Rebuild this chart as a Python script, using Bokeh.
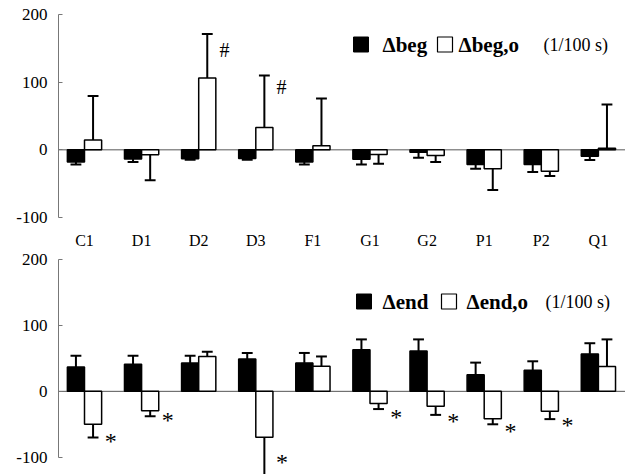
import numpy as np
from bokeh.plotting import figure
from bokeh.layouts import column
from bokeh.models import Range1d, FixedTicker, Span
from bokeh.core.properties import value
from bokeh.embed import file_html
from bokeh.resources import INLINE

# ---------------- data ----------------
categories = ["C1", "D1", "D2", "D3", "F1", "G1", "G2", "P1", "P2", "Q1"]

beg_mean = [-18.0, -13.7, -13.0, -12.7, -18.0, -14.0, -3.4, -21.5, -21.5, -9.3]
beg_sd = [3.5, 4.3, 1.5, 1.8, 3.5, 7.5, 8.3, 6.5, 11.2, 5.7]
beg_o_mean = [14.6, -7.3, 106.0, 33.0, 5.9, -7.0, -8.3, -28.0, -31.7, 2.4]
beg_o_sd = [64.9, 37.7, 65.0, 77.0, 70.0, 13.5, 9.7, 31.5, 6.8, 64.6]

end_mean = [36.6, 41.0, 43.0, 48.8, 43.0, 63.0, 61.0, 24.9, 31.7, 56.6]
end_sd = [17.1, 12.7, 10.7, 9.2, 15.0, 15.5, 17.5, 18.5, 13.7, 16.1]
end_o_mean = [-49.8, -29.3, 52.7, -69.3, 38.0, -18.5, -22.4, -41.5, -30.2, 37.6]
end_o_sd = [20.0, 8.3, 7.3, 65.0, 14.7, 8.3, 13.2, 8.3, 11.8, 40.9]

hash_cats = ["D2", "D3"]
hash_y = [147.0, 93.4]
star_cats = ["C1", "D1", "D3", "G1", "G2", "P1", "P2"]
star_y = [-69.5, -38.5, -101.9, -33.0, -39.0, -55.2, -45.3]

y_ticks = [-100, 0, 100, 200]
legend_top = ["\u0394beg", "\u0394beg,o", "(1/100 s)"]
legend_bot = ["\u0394end", "\u0394end,o", "(1/100 s)"]

# ---------------- layout constants ----------------
X0, DX = 84.0, 57.1  # page x of first group centre, group spacing
FIG_W = 625
LEFT = 58
SERIF = "Liberation Serif"
BW = 0.3             # bar width (in group units)
CAP = 0.095

idx = np.arange(len(categories))
cat_pos = {c: i for i, c in enumerate(categories)}


def px_x(page_x):
    return (page_x - X0) / DX


def make_fig(h, top_page, y200_page, ym100_page):
    px = (ym100_page - y200_page) / 300.0
    ytop = 200 + (y200_page - top_page) / px
    ybot = ytop - h / px
    p = figure(width=FIG_W, height=h, x_range=Range1d(px_x(LEFT), px_x(FIG_W)),
               y_range=Range1d(ybot, ytop),
               output_backend="svg", toolbar_location=None, x_axis_location=None,
               min_border_left=LEFT, min_border_right=0, min_border_top=0, min_border_bottom=0)
    p.outline_line_color = None
    p.grid.visible = False
    p.background_fill_color = "white"
    ax = p.yaxis[0]
    ax.ticker = FixedTicker(ticks=y_ticks)
    ax.major_label_overrides = {t: str(t) for t in y_ticks}
    ax.bounds = (-100, 200)
    ax.major_tick_in = 4
    ax.major_tick_out = 0
    ax.minor_tick_in = 0
    ax.minor_tick_out = 0
    ax.axis_line_color = "#777777"
    ax.major_tick_line_color = "#777777"
    ax.major_label_standoff = 11
    ax.major_label_text_font = SERIF
    ax.major_label_text_font_size = "17px"
    ax.major_label_text_color = "black"
    p.add_layout(Span(location=0, dimension="width", line_color="#555555",
                      line_width=1, level="underlay"))

    def py(page_y):
        return 200 - (page_y - y200_page) / px
    return p, py


def draw_bars(p, m1, s1, m2, s2):
    for m, s, dx, col in ((m1, s1, -BW / 2, "black"), (m2, s2, BW / 2, "white")):
        m = np.array(m)
        s = np.array(s)
        x = idx + dx
        e = m + np.where(m >= 0, 1, -1) * s
        p.segment(x0=x, y0=m, x1=x, y1=e, line_color="black", line_width=2)
        p.segment(x0=x - CAP, y0=e, x1=x + CAP, y1=e, line_color="black", line_width=2)
        p.vbar(x=x, width=BW, top=m, bottom=0, fill_color=col, line_color="black",
               line_width=1.5)


def draw_legend(p, py, texts, sq1_x, t1_x, sq2_x, t2_x, t3_x, mid_y):
    p.scatter(x=[px_x(sq1_x)], y=[py(mid_y)], marker="square", size=15,
              fill_color="black", line_color="black", line_width=1)
    p.scatter(x=[px_x(sq2_x)], y=[py(mid_y)], marker="square", size=15,
              fill_color="white", line_color="black", line_width=1.2)
    p.text(x=[px_x(t1_x), px_x(t2_x)], y=[py(mid_y)] * 2, text=texts[:2],
           text_font=value(SERIF), text_font_size="21px", text_font_style="bold",
           text_align="left", text_baseline="middle", text_color="black")
    p.text(x=[px_x(t3_x)], y=[py(mid_y + 0.5)], text=[texts[2]],
           text_font=value(SERIF), text_font_size="18px",
           text_align="left", text_baseline="middle", text_color="black")


# ---------------- top panel ----------------
top, ty = make_fig(249, 0, 14, 217)
draw_bars(top, beg_mean, beg_sd, beg_o_mean, beg_o_sd)
draw_legend(top, ty, legend_top, 360.5, 382, 444.5, 458, 543, 44)
top.text(x=[cat_pos[c] + 0.45 for c in hash_cats], y=hash_y, text=["#"] * len(hash_cats),
         text_font=value(SERIF), text_font_size="20px", text_align="center",
         text_baseline="middle", text_color="black")
top.text(x=idx, y=[ty(239.8)] * len(categories), text=categories,
         text_font=value(SERIF), text_font_size="16px", text_align="center",
         text_baseline="middle", text_color="black")

# ---------------- bottom panel ----------------
bot, by = make_fig(225, 249, 258.5, 457)
draw_bars(bot, end_mean, end_sd, end_o_mean, end_o_sd)
draw_legend(bot, by, legend_bot, 363.5, 382, 448.5, 466, 545, 301)
bot.text(x=[cat_pos[c] + 0.46 for c in star_cats], y=star_y, text=["*"] * len(star_cats),
         text_font=value(SERIF), text_font_size="24px", text_align="center",
         text_baseline="middle", y_offset=3.5, text_color="black")

layout = column(top, bot, spacing=0)
open("out.html", "w").write(file_html(layout, INLINE))
